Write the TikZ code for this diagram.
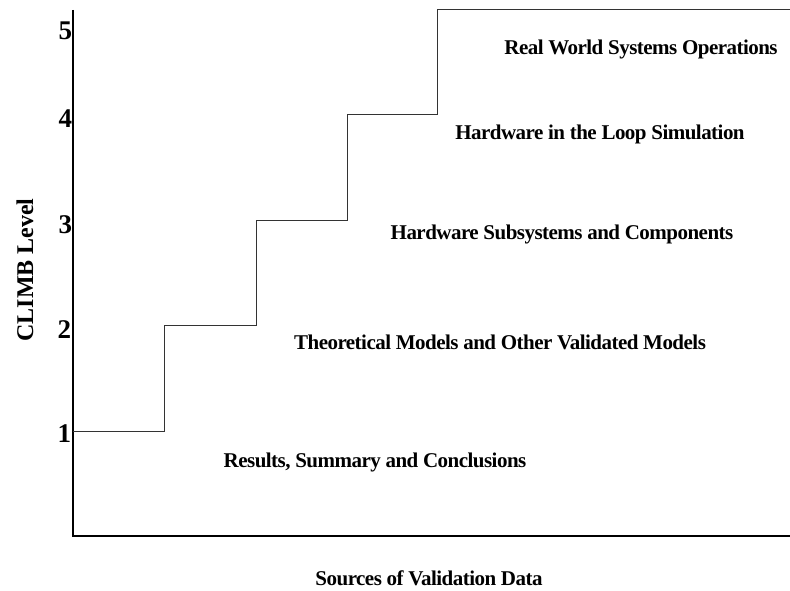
\documentclass[tikz,border=0pt]{standalone}
\usepackage{fontspec}
\setmainfont{Liberation Serif}
\newfontfamily\tightserif[LetterSpace=-2.5]{Liberation Serif}
\begin{document}
\begin{tikzpicture}[x=1pt,y=-1pt,
  every node/.style={inner sep=0pt, outer sep=0pt},
  axisline/.style={line width=1.2pt, black},
  stairline/.style={line width=1pt, black!80},
  levelnum/.style={font=\fontsize{27}{27}\bfseries\selectfont, anchor=base east},
  stagetext/.style={font=\tightserif\fontsize{21}{21}\bfseries\selectfont, anchor=base},
  axistitle/.style={font=\tightserif\fontsize{21}{21}\bfseries\selectfont, anchor=base}]
\useasboundingbox (0,0) rectangle (790,591);

% axes
\coordinate (top) at (73,10);
\coordinate (origin) at (73,536);
\coordinate (right) at (790,536);
\draw[axisline] (top) -- (origin) -- (right);

% staircase of CLIMB levels
\coordinate (s1) at (73,431);
\coordinate (s2) at (164,325);
\coordinate (s3) at (256,220);
\coordinate (s4) at (347,115);
\coordinate (s5) at (437,10);
\coordinate (s6) at (790,10);
\draw[stairline] (s1) -| (s2) -| (s3) -| (s4) -| (s5) -- (s6);

% level numbers
\node[levelnum] (n5) at (72,40)  {5};
\node[levelnum] (n4) at (72,128) {4};
\node[levelnum] (n3) at (72,233) {3};
\node[levelnum] (n2) at (71,338) {2};
\node[levelnum] (n1) at (71,442) {1};

% sources at each level
\node[stagetext] (l5) at (641,55)  {Real World Systems Operations};
\node[stagetext] (l4) at (600,140) {Hardware in the Loop Simulation};
\node[stagetext] (l3) at (562,239) {Hardware Subsystems and Components};
\node[stagetext] (l2) at (500,349) {Theoretical Models and Other Validated Models};
\node[stagetext] (l1) at (375,467) {Results, Summary and Conclusions};

% axis titles
\node[axistitle] (xt) at (429,585) {Sources of Validation Data};
\node[axistitle, rotate=90, font=\fontsize{24}{24}\bfseries\selectfont] (yt) at (33,270) {CLIMB Level};
\end{tikzpicture}
\end{document}
